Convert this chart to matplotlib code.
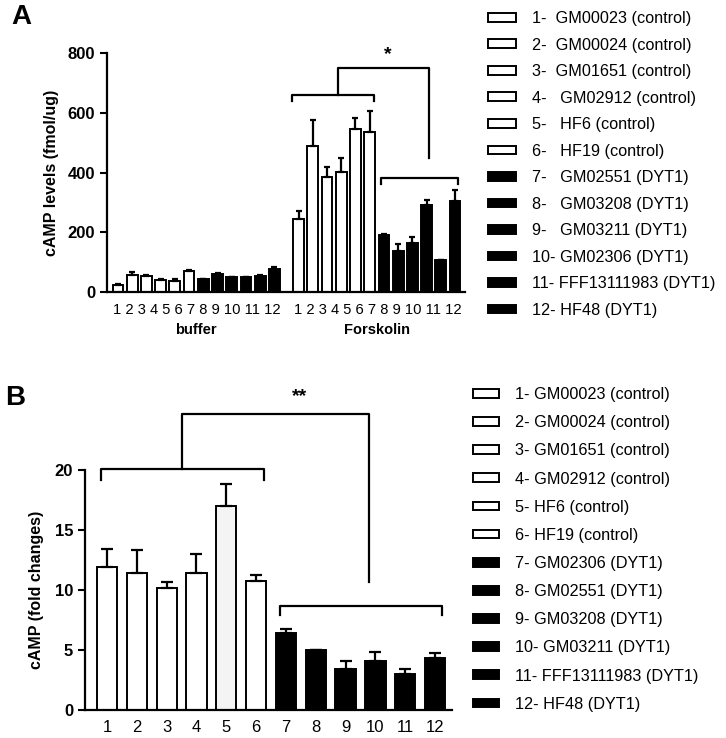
import numpy as np
import matplotlib
matplotlib.use('Agg')
import matplotlib.pyplot as plt
from matplotlib.patches import Patch

plt.rcParams['font.family'] = ['Liberation Sans', 'DejaVu Sans']

# panel A data: cAMP levels (fmol/ug)
buffer_vals = [24, 58, 54, 41, 38, 69, 43, 61, 49, 49, 54, 78]
buffer_err = [3, 10, 4, 4, 4, 5, 2, 2, 2, 2, 2, 6]
forsk_vals = [244, 489, 385, 402, 547, 536, 191, 137, 163, 292, 108, 305]
forsk_err = [28, 86, 34, 46, 35, 71, 2, 23, 22, 15, 0, 38]
lines_a = ['1-  GM00023 (control)', '2-  GM00024 (control)', '3-  GM01651 (control)',
           '4-   GM02912 (control)', '5-   HF6 (control)', '6-   HF19 (control)',
           '7-   GM02551 (DYT1)', '8-   GM03208 (DYT1)', '9-   GM03211 (DYT1)',
           '10- GM02306 (DYT1)', '11- FFF13111983 (DYT1)', '12- HF48 (DYT1)']

# panel B data: fold changes
fold_vals = [11.94, 11.44, 10.2, 11.44, 17.0, 10.75, 6.39, 5.0, 3.39, 4.08, 2.97, 4.3]
fold_err = [1.46, 1.86, 0.5, 1.56, 1.8, 0.5, 0.33, 0.0, 0.69, 0.75, 0.45, 0.45]
lines_b = ['1- GM00023 (control)', '2- GM00024 (control)', '3- GM01651 (control)',
           '4- GM02912 (control)', '5- HF6 (control)', '6- HF19 (control)',
           '7- GM02306 (DYT1)', '8- GM02551 (DYT1)', '9- GM03208 (DYT1)',
           '10- GM03211 (DYT1)', '11- FFF13111983 (DYT1)', '12- HF48 (DYT1)']
tick_names = [str(i) for i in range(1, 13)]
groups = ['buffer', 'Forskolin']

colors = ['white'] * 6 + ['black'] * 6
lw = 1.4

fig = plt.figure(figsize=(7.26, 7.38), dpi=100)

# ---------------- Panel A ----------------
ax = fig.add_axes([0.1474, 0.6043, 0.4931, 0.3239])
pos_buf = np.arange(12)
pos_fsk = np.arange(12) + 12.7
for pos, vals, err in [(pos_buf, buffer_vals, buffer_err), (pos_fsk, forsk_vals, forsk_err)]:
    ax.bar(pos, vals, width=0.76, color=colors, edgecolor='black', linewidth=lw,
           yerr=[np.zeros(12), err], capsize=2.5,
           error_kw=dict(elinewidth=1.6, capthick=1.6, ecolor='black'), zorder=2)
ax.set_xlim(-0.77, 24.4)
ax.set_ylim(0, 800)
ax.set_yticks([0, 200, 400, 600, 800])
ax.set_xticks([])
ax.tick_params(axis='y', width=1.5, length=5, labelsize=12)
for t in ax.get_yticklabels():
    t.set_fontweight('bold')
ax.spines['top'].set_visible(False)
ax.spines['right'].set_visible(False)
ax.spines['left'].set_linewidth(1.6)
ax.spines['bottom'].set_linewidth(1.6)
ax.set_ylabel('cAMP levels (fmol/ug)', fontsize=11.5, fontweight='bold', labelpad=6)
# numbers under each group are one centred string, as in the original
for pos, name in zip([pos_buf, pos_fsk], groups):
    ax.text(pos.mean() + 0.05, -60, ' '.join(tick_names), ha='center', va='center',
            fontsize=10.6)
    ax.text(pos.mean(), -128, name, ha='center', va='center', fontsize=10.5,
            fontweight='bold')

# significance brackets A
x1, x2 = pos_fsk[0] - 0.45, pos_fsk[5] + 0.3
ax.plot([x1, x1, x2, x2], [640, 660, 660, 640], color='black', lw=1.6, clip_on=False)
x3, x4 = pos_fsk[6] - 0.2, pos_fsk[11] + 0.2
ax.plot([x3, x3, x4, x4], [360, 380, 380, 360], color='black', lw=1.6, clip_on=False)
xc = (pos_fsk[2] + pos_fsk[3]) / 2 + 0.3
xr = pos_fsk[9] + 0.15
ax.plot([xc, xc, xr, xr], [660, 750, 750, 447], color='black', lw=1.6, clip_on=False)
ax.text((xc + xr) / 2 + 0.3, 765, '*', ha='center', va='bottom', fontsize=14, fontweight='bold')

handles_a = [Patch(facecolor=c, edgecolor='black', linewidth=lw) for c in colors]
fig.legend(handles_a, lines_a, loc='upper left', bbox_to_anchor=(0.663, 0.9939),
           frameon=False, fontsize=11.7, handlelength=1.72, handleheight=0.45,
           handletextpad=1.0, labelspacing=0.71, borderaxespad=0)

fig.text(0.015, 0.995, 'A', fontsize=20, fontweight='bold', va='top', ha='left')

# ---------------- Panel B ----------------
bx = fig.add_axes([0.117, 0.0379, 0.5056, 0.3252])
pos_b = np.arange(1, 13)
bar_colors_b = ['white'] * 4 + ['#f4f4f4'] + ['white'] + ['black'] * 6
bx.bar(pos_b, fold_vals, width=0.68, color=bar_colors_b, edgecolor='black', linewidth=lw,
       yerr=[np.zeros(12), fold_err], capsize=4,
       error_kw=dict(elinewidth=1.6, capthick=1.6, ecolor='black'), zorder=2)
bx.set_xlim(0.26, 12.57)
bx.set_ylim(0, 20)
bx.set_yticks([0, 5, 10, 15, 20])
bx.set_xticks(pos_b)
bx.set_xticklabels(tick_names, fontsize=12)
bx.tick_params(axis='x', length=0, pad=7)
bx.tick_params(axis='y', width=1.5, length=5, labelsize=12)
for t in bx.get_yticklabels():
    t.set_fontweight('bold')
bx.spines['top'].set_visible(False)
bx.spines['right'].set_visible(False)
bx.spines['left'].set_linewidth(1.6)
bx.spines['bottom'].set_linewidth(1.6)
bx.set_ylabel('cAMP (fold changes)', fontsize=11.5, fontweight='bold', labelpad=8)

# significance brackets B
b1, b2 = pos_b[0] - 0.2, pos_b[5] + 0.25
bx.plot([b1, b1, b2, b2], [19.2, 20.08, 20.08, 19.2], color='black', lw=1.6, clip_on=False)
b3, b4 = pos_b[6] - 0.2, pos_b[11] + 0.25
bx.plot([b3, b3, b4, b4], [7.9, 8.67, 8.67, 7.9], color='black', lw=1.6, clip_on=False)
bc = (pos_b[2] + pos_b[3]) / 2
br = pos_b[9] - 0.2
bx.plot([bc, bc, br, br], [20.08, 24.7, 24.7, 10.7], color='black', lw=1.6, clip_on=False)
bx.text(7.45, 25.4, '**', ha='center', va='bottom', fontsize=14, fontweight='bold')

handles_b = [Patch(facecolor=c, edgecolor='black', linewidth=lw) for c in colors]
fig.legend(handles_b, lines_b, loc='upper left', bbox_to_anchor=(0.6425, 0.4844),
           frameon=False, fontsize=11.7, handlelength=1.6, handleheight=0.45,
           handletextpad=1.0, labelspacing=0.81, borderaxespad=0)

fig.text(0.007, 0.478, 'B', fontsize=20, fontweight='bold', va='top', ha='left')

fig.savefig('out.png', dpi=100)
